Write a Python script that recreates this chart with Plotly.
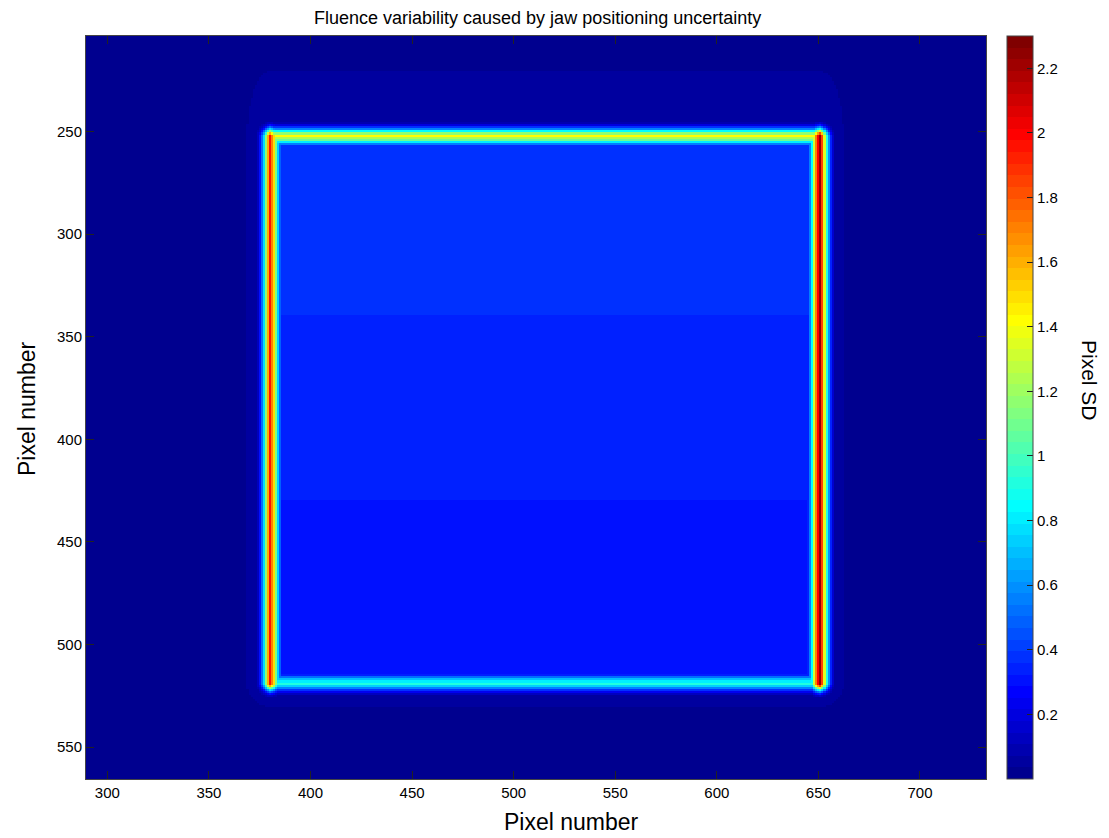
import numpy as np
import plotly.graph_objects as go

# ---------------- data ----------------
x_pixels = np.arange(290, 733)          # column pixel numbers
y_pixels = np.arange(204, 566)          # row pixel numbers

# field edges (pixel numbers) and peak SD along each edge
edge_left, edge_right, edge_top, edge_bottom = 380, 651, 252, 519
peak_left, peak_right, peak_top, peak_bottom = 1.95, 2.25, 1.42, 0.92

# normalised SD profile across an edge (offset <0 : outside the field)
profile_offsets = [-6, -5, -4, -3, -2, -1, 0, 1, 2, 3, 4, 5, 6]
profile_values = [0.07, 0.15, 0.26, 0.40, 0.60, 0.82, 1.00, 0.88, 0.76, 0.58, 0.38, 0.25, 0.15]

# SD level inside the field, by row band
interior_band_start = [252, 280, 310, 340, 370, 400, 430, 460, 490]
interior_band_value = [0.38, 0.37, 0.36, 0.35, 0.34, 0.33, 0.32, 0.31, 0.31]

# outside the field: faint halo and background
background_value = 0.015
halo_reach = {"side": 16, "top": 45, "bottom": 16}
halo_bins = [0.7]
halo_values = [0.045]

# colour bar
cbar_range = [0.0, 2.3]
cbar_tickvals = [0.2, 0.4, 0.6, 0.8, 1.0, 1.2, 1.4, 1.6, 1.8, 2.0, 2.2]
cbar_ticktext = ["0.2", "0.4", "0.6", "0.8", "1", "1.2", "1.4", "1.6", "1.8", "2", "2.2"]

x_tickvals = [300, 350, 400, 450, 500, 550, 600, 650, 700]
y_tickvals = [250, 300, 350, 400, 450, 500, 550]

title_text = "Fluence variability caused by jaw positioning uncertainty"
x_label = "Pixel number"
y_label = "Pixel number"
cbar_label = "Pixel SD"

# ---------------- build the image ----------------
X, Y = np.meshgrid(x_pixels, y_pixels)
pv = np.array(profile_values)


def shape(off):
    idx = off - profile_offsets[0]
    ok = (idx >= 0) & (idx < len(pv))
    out = np.zeros(off.shape)
    out[ok] = pv[idx[ok]]
    return out


def along(coord, lo, hi):
    dist = np.where(coord < lo, lo - coord, np.where(coord > hi, coord - hi, 0))
    return shape(-dist)


inside = (X > edge_left) & (X < edge_right) & (Y > edge_top) & (Y < edge_bottom)

band_idx = np.searchsorted(interior_band_start, Y, side="right") - 1
band_idx = np.clip(band_idx, 0, len(interior_band_value) - 1)
interior = np.array(interior_band_value)[band_idx]

dx = np.maximum(np.maximum(edge_left - X, X - edge_right), 0) / halo_reach["side"]
dy_top = np.maximum(edge_top - Y, 0) / halo_reach["top"]
dy_bot = np.maximum(Y - edge_bottom, 0) / halo_reach["bottom"]
dn = np.sqrt(dx ** 2 + (dy_top + dy_bot) ** 2)
outside = np.full(X.shape, background_value)
for b, v in zip(halo_bins[::-1], halo_values[::-1]):
    outside = np.where(dn < b, v, outside)

Z = np.where(inside, interior, outside)
ey = along(Y, edge_top, edge_bottom)
ex = along(X, edge_left, edge_right)
Z = np.maximum(Z, peak_left * shape(X - edge_left) * ey)
Z = np.maximum(Z, peak_right * shape(edge_right - X) * ey)
Z = np.maximum(Z, peak_top * shape(Y - edge_top) * ex)
Z = np.maximum(Z, peak_bottom * shape(edge_bottom - Y) * ex)
Z = np.round(Z, 3)

# ---------------- MATLAB jet(64), discrete ----------------
n = 64
m = 16
u = np.concatenate([np.arange(1, m + 1) / m, np.ones(m - 1), np.arange(m, 0, -1) / m])
g = 8 + np.arange(1, len(u) + 1)
r = g + m
b = g - m
R = np.zeros(n); G = np.zeros(n); B = np.zeros(n)
for k in range(len(u)):
    if 1 <= r[k] <= n: R[r[k] - 1] = u[k]
    if 1 <= g[k] <= n: G[g[k] - 1] = u[k]
    if 1 <= b[k] <= n: B[b[k] - 1] = u[k]
jet_cols = ["rgb(%d,%d,%d)" % (round(R[i] * 255), round(G[i] * 255), round(B[i] * 255)) for i in range(n)]
colorscale = []
for i in range(n):
    colorscale.append([i / n, jet_cols[i]])
    colorscale.append([(i + 1) / n, jet_cols[i]])

# ---------------- figure ----------------
W, H = 1109, 838
L, Rm, T, Bm = 86, 123, 36, 59
pw, ph = W - L - Rm, H - T - Bm


def px(xp):
    return (xp - L) / pw


def py(yp):
    return (H - Bm - yp) / ph


FONT = "Liberation Sans, Arial, Helvetica, sans-serif"
axis_col = "#444444"

fig = go.Figure(go.Heatmap(
    x=x_pixels, y=y_pixels, z=Z,
    colorscale=colorscale, zmin=cbar_range[0], zmax=cbar_range[1],
    zsmooth=False, hoverinfo="skip",
    colorbar=dict(
        x=px(1007), xanchor="left", xpad=0, ypad=0,
        y=0.5, yanchor="middle", len=1, lenmode="fraction",
        thickness=26, outlinewidth=1, outlinecolor=axis_col,
        tickvals=cbar_tickvals, ticktext=cbar_ticktext,
        ticks="inside", ticklen=6, tickcolor="#222222", tickwidth=1,
        tickfont=dict(family=FONT, size=15, color="black"),
    ),
))

# left-side colour-bar tick marks (MATLAB draws them on both sides)
cb_left = px(1007)
for v in cbar_tickvals:
    yy = (v - cbar_range[0]) / (cbar_range[1] - cbar_range[0])
    fig.add_shape(type="line", xref="paper", yref="paper",
                  x0=cb_left, x1=cb_left + 6 / pw, y0=yy, y1=yy,
                  line=dict(color="#222222", width=1))

fig.update_xaxes(
    range=[289.5, 732.5], tickvals=x_tickvals, ticks="inside", ticklen=8,
    tickcolor="#222222", showline=True, linecolor=axis_col, linewidth=1,
    mirror="ticks", showgrid=False, zeroline=False,
    tickfont=dict(family=FONT, size=15, color="black"),
)
fig.update_yaxes(
    range=[565.5, 203.5], tickvals=y_tickvals, ticks="inside", ticklen=8,
    tickcolor="#222222", showline=True, linecolor=axis_col, linewidth=1,
    mirror="ticks", showgrid=False, zeroline=False,
    tickfont=dict(family=FONT, size=15, color="black"),
)

fig.update_layout(
    width=W, height=H, margin=dict(l=L, r=Rm, t=T, b=Bm, autoexpand=False),
    paper_bgcolor="white", plot_bgcolor="rgb(0,0,143)",
    font=dict(family=FONT, color="black"),
    annotations=[
        dict(text=title_text, x=px(537), y=py(18), xref="paper", yref="paper",
             showarrow=False, xanchor="center", yanchor="middle",
             font=dict(family=FONT, size=18, color="black")),
        dict(text=x_label, x=px(571), y=py(822), xref="paper", yref="paper",
             showarrow=False, xanchor="center", yanchor="middle",
             font=dict(family=FONT, size=23, color="black")),
        dict(text=y_label, x=px(27), y=py(408), xref="paper", yref="paper",
             showarrow=False, xanchor="center", yanchor="middle", textangle=-90,
             font=dict(family=FONT, size=23, color="black")),
        dict(text=cbar_label, x=px(1090), y=py(380), xref="paper", yref="paper",
             showarrow=False, xanchor="center", yanchor="middle", textangle=90,
             font=dict(family=FONT, size=21, color="black")),
    ],
)

fig.write_html("out.html")
